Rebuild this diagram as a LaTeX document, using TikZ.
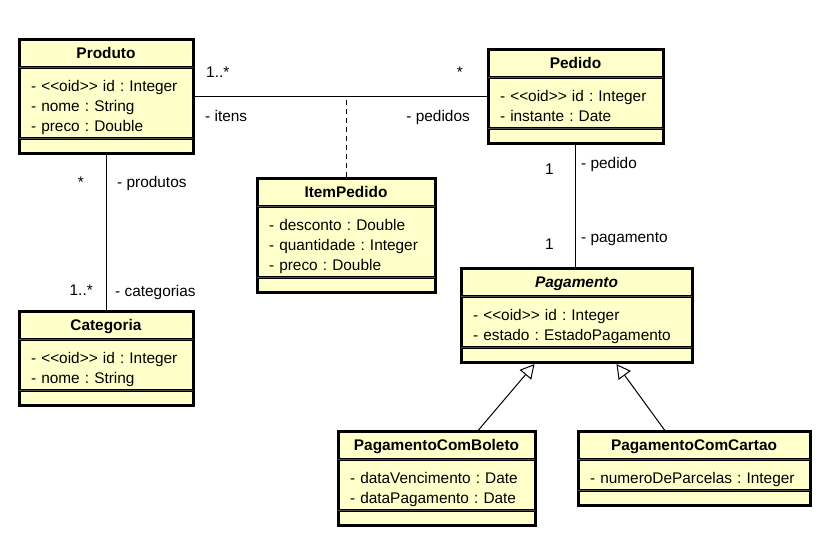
\documentclass[tikz,border=0pt]{standalone}
\usepackage{fontspec}
\newfontfamily\umlfont{Liberation Sans}
\usetikzlibrary{shapes.multipart,arrows.meta}

\definecolor{classfill}{RGB}{255,255,202}

% struts for the compartments
\newcommand{\headstrut}{\rule[-5.3pt]{0pt}{21.2pt}}
\newcommand{\firststrut}{\rule{0pt}{20.3pt}}
\newcommand{\laststrut}{\rule[-3.4pt]{0pt}{3.4pt}}
\newcommand{\opsstrut}{\rule{0pt}{8.2pt}}

\begin{document}
\begin{tikzpicture}[
	x=1pt, y=-1pt,
	every node/.style={font=\umlfont\fontsize{15.4}{20}\selectfont\frenchspacing},
	umlclass/.style={
		rectangle split,
		rectangle split parts=3,
		anchor=north west,
		draw=black,
		line width=3pt,
		fill=classfill,
		inner xsep=12pt,
		inner ysep=2pt
	},
	sep/.style={
		line width=1pt,
		draw=black!70,
		shorten >=1.5pt,
		shorten <=1.5pt
	},
	assoc/.style={line width=1pt},
	gen/.style={
		line width=1pt,
		-{Triangle[open,length=14pt,width=15pt,fill=white]}
	},
	mult/.style={inner sep=0pt}
]
\useasboundingbox (0,0) rectangle (830,540);

% Classes
\node [umlclass, text width=150pt] (produto) at (17.5,38) {\centerline{\headstrut\textbf{Produto}}
	\nodepart{two}\firststrut- <<oid>> id : Integer\\- nome : String\\- preco : Double\laststrut
	\nodepart{three}\opsstrut};
\node [umlclass, text width=151pt] (pedido) at (486.5,48) {\centerline{\headstrut\textbf{Pedido}}
	\nodepart{two}\firststrut- <<oid>> id : Integer\\- instante : Date\laststrut
	\nodepart{three}\opsstrut};
\node [umlclass, text width=154pt] (itempedido) at (255.5,177) {\centerline{\headstrut\textbf{ItemPedido}}
	\nodepart{two}\firststrut- desconto : Double\\- quantidade : Integer\\- preco : Double\laststrut
	\nodepart{three}\opsstrut};
\node [umlclass, text width=150pt] (categoria) at (17.5,310) {\centerline{\headstrut\textbf{Categoria}}
	\nodepart{two}\firststrut- <<oid>> id : Integer\\- nome : String\laststrut
	\nodepart{three}\opsstrut};
\node [umlclass, text width=207pt] (pagamento) at (459.5,267) {\centerline{\headstrut\textbf{\textit{Pagamento}}}
	\nodepart{two}\firststrut- <<oid>> id : Integer\\- estado : EstadoPagamento\laststrut
	\nodepart{three}\opsstrut};
\node [umlclass, text width=173pt] (boleto) at (336.5,430) {\centerline{\headstrut\textbf{PagamentoComBoleto}}
	\nodepart{two}\firststrut- dataVencimento : Date\\- dataPagamento : Date\laststrut
	\nodepart{three}\opsstrut};
\node [umlclass, text width=208pt] (cartao) at (576.5,430) {\centerline{\headstrut\textbf{PagamentoComCartao}}
	\nodepart{two}\firststrut- numeroDeParcelas : Integer\laststrut
	\nodepart{three}\opsstrut};

% Compartment lines
\foreach \c in {produto,pedido,itempedido,categoria,pagamento,boleto,cartao} {
	\draw [sep] (\c.text split west) -- (\c.text split east);
	\draw [sep] (\c.two split west) -- (\c.two split east);
}

% Associations
\draw [assoc] (produto.east) -- (pedido.west);
\coordinate (itemlink) at (itempedido.north |- produto.east);
\draw [assoc, dash pattern=on 5pt off 4pt] (itempedido.north) -- (itemlink);
\draw [assoc] (produto.south) -- (categoria.north);
\draw [assoc] (pedido.south) -- (pedido.south |- pagamento.north);

% Generalizations
\draw [gen] ([xshift=42pt]boleto.north) -- ([xshift=-42pt]pagamento.south);
\draw [gen] ([xshift=-29.5pt]cartao.north) -- ([xshift=40pt]pagamento.south);

% Roles and multiplicities
\node [mult, anchor=base west] (multitens) at (206,77.5) {1..*};
\node [mult, anchor=base east] (multpedidos) at (463,77.5) {*};
\node [mult, anchor=base west] (roleitens) at (205,122) {- itens};
\node [mult, anchor=base east] (rolepedidos) at (470,122) {- pedidos};
\node [mult, anchor=base east] (multprodutos) at (84,188) {*};
\node [mult, anchor=base west] (roleprodutos) at (117,188) {- produtos};
\node [mult, anchor=base east] (multcategorias) at (93,295) {1..*};
\node [mult, anchor=base west] (rolecategorias) at (115,296) {- categorias};
\node [mult, anchor=base east] (multpedido) at (554,175) {1};
\node [mult, anchor=base west] (rolepedido) at (581,169) {- pedido};
\node [mult, anchor=base east] (multpagamento) at (554,249) {1};
\node [mult, anchor=base west] (rolepagamento) at (581,243) {- pagamento};

\end{tikzpicture}
\end{document}
